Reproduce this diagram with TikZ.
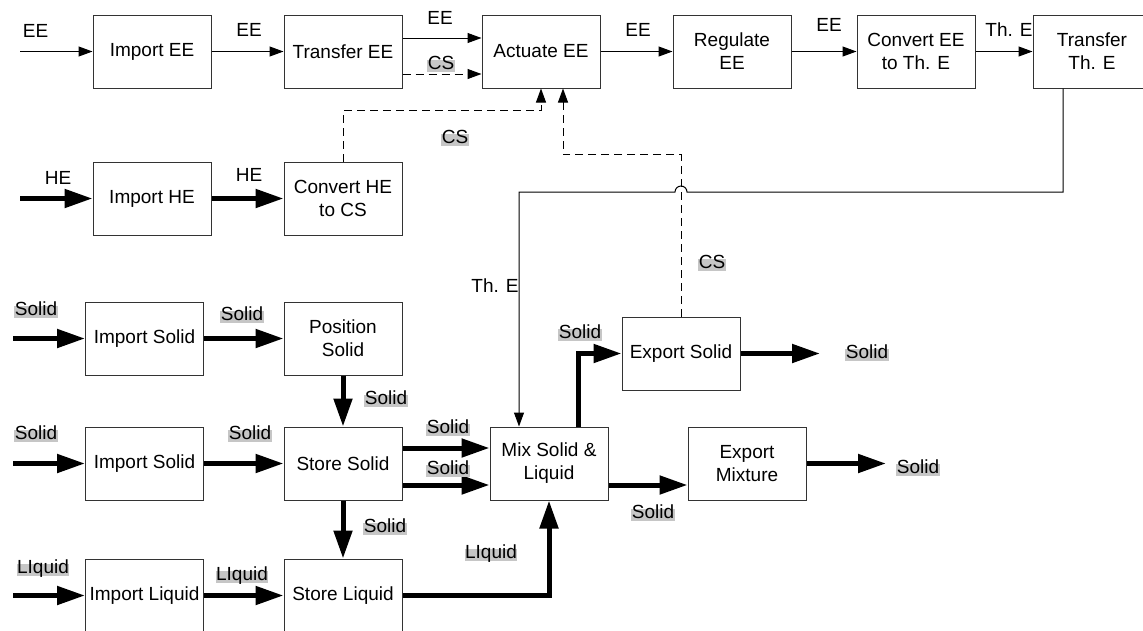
\documentclass[tikz,border=0pt]{standalone}
\usepackage{fontspec}
\setmainfont{Liberation Sans}
\usetikzlibrary{arrows.meta}
\begin{document}
\begin{tikzpicture}[x=1pt, y=-1pt, every node/.style={font=\fontsize{19}{23}\selectfont},
  blk/.style={draw=black!80, line width=1pt, minimum width=118pt, minimum height=73pt, inner sep=0pt, align=center},
  sig/.style={line width=1pt, -{Triangle[length=14pt,width=10pt]}},
  ctrl/.style={sig, dash pattern=on 8pt off 5pt},
  flow/.style={line width=5pt, -{Triangle[length=28pt,width=18pt]}},
  lbl/.style={inner sep=0pt},
  tag/.style={fill=gray!45, inner sep=0.5pt, text height=0.88em, text depth=0.2em}]
\useasboundingbox (0,0) rectangle (1143,630);
\node[blk] (iee) at (152,51.5) {Import EE}; \node[blk] (tee) at (343,51.5) {Transfer EE};
\node[blk] (aee) at (541,51.5) {Actuate EE}; \node[blk] (ree) at (732,51.5) {Regulate\\EE};
\node[blk] (cee) at (916,51.5) {Convert EE\\to Th. E}; \node[blk] (tth) at (1092,51.5) {Transfer\\Th. E};
\node[blk] (ihe) at (152,198.5) {Import HE}; \node[blk] (che) at (343,198.5) {Convert HE\\to CS};
\node[blk] (is1) at (144.5,338.5) {Import Solid}; \node[blk] (pso) at (343,338.5) {Position\\Solid};
\node[blk] (is2) at (144.5,463.5) {Import Solid}; \node[blk] (sso) at (343,463.5) {Store Solid};
\node[blk] (ili) at (144.5,595.5) {Import Liquid}; \node[blk] (sli) at (343,595.5) {Store Liquid};
\node[blk] (mix) at (549,463.5) {Mix Solid \&\\Liquid};
\node[blk] (eso) at (681,353.5) {Export Solid}; \node[blk] (emx) at (747,463.5) {Export\\Mixture};
\coordinate (eein) at (20,51.5); \coordinate (hein) at (20,198.5);
\coordinate (s1in) at (13,338.5); \coordinate (s2in) at (13,463.5); \coordinate (liin) at (13,595.5);
\coordinate (esout) at (820,353.5); \coordinate (emout) at (886,463.5);
\draw[sig] (eein) -- (iee.west); \draw[sig] (iee) -- (tee);
\draw[sig] ([yshift=13.5pt]tee.east) -- ([yshift=13.5pt]aee.west);
\draw[ctrl] ([yshift=-22.5pt]tee.east) -- ([yshift=-22.5pt]aee.west);
\draw[sig] (aee) -- (ree); \draw[sig] (ree) -- (cee); \draw[sig] (cee) -- (tth);
\draw[flow] (hein) -- (ihe.west); \draw[flow] (ihe) -- (che);
\draw[ctrl] (che.north) -- ++(0,-51) -| (aee.south);
\draw[ctrl] (eso.north) -- ++(0,-162) -| ([xshift=22pt]aee.south);
\draw[sig] ([xshift=-29pt]tth.south) |- (687,192) arc[start angle=0, end angle=180, radius=6pt] -| ([xshift=-30pt]mix.north);
\draw[flow] (s1in) -- (is1.west); \draw[flow] (is1) -- (pso); \draw[flow] (pso) -- (sso);
\draw[flow] (s2in) -- (is2.west); \draw[flow] (is2) -- (sso);
\draw[flow] ([yshift=15.5pt]sso.east) -- ([yshift=15.5pt]mix.west);
\draw[flow] ([yshift=-21.5pt]sso.east) -- ([yshift=-21.5pt]mix.west);
\draw[flow] (sso) -- (sli); \draw[flow] (liin) -- (ili.west); \draw[flow] (ili) -- (sli);
\draw[flow] (sli.east) -| (mix.south);
\draw[flow] ([xshift=29pt]mix.north) |- (eso.west); \draw[flow] (eso.east) -- (esout);
\draw[flow] ([yshift=-21.5pt]mix.east) -- ([yshift=-21.5pt]emx.west); \draw[flow] (emx.east) -- (emout);
\node[lbl] (l1) at (35.5,31) {EE}; \node[lbl] (l2) at (249,30) {EE}; \node[lbl] (l3) at (440,17.5) {EE};
\node[tag] (l4) at (441,66) {CS}; \node[lbl] (l5) at (638,29.5) {EE}; \node[lbl] (l6) at (829,25) {EE};
\node[lbl] (l7) at (1009,29.5) {Th. E}; \node[tag] (l8) at (455,140) {CS};
\node[lbl] (l9) at (58,178) {HE}; \node[lbl] (l10) at (249,175) {HE};
\node[tag] (l11) at (712,265) {CS}; \node[lbl] (l12) at (495,286) {Th. E};
\node[tag] (l13) at (36,312) {Solid}; \node[tag] (l14) at (242,317) {Solid}; \node[tag] (l15) at (386,401) {Solid};
\node[tag] (l16) at (36,436) {Solid}; \node[tag] (l17) at (250,436) {Solid}; \node[tag] (l18) at (385,529) {Solid};
\node[tag] (l19) at (43,570) {LIquid}; \node[tag] (l20) at (242,577) {LIquid};
\node[tag] (l21) at (448,430) {Solid}; \node[tag] (l22) at (448,471) {Solid};
\node[tag] (l23) at (580,335) {Solid}; \node[tag] (l24) at (491,555) {LIquid}; \node[tag] (l25) at (653,515) {Solid};
\node[tag] (l26) at (867,355) {Solid}; \node[tag] (l27) at (918,470) {Solid};
\end{tikzpicture}
\end{document}
